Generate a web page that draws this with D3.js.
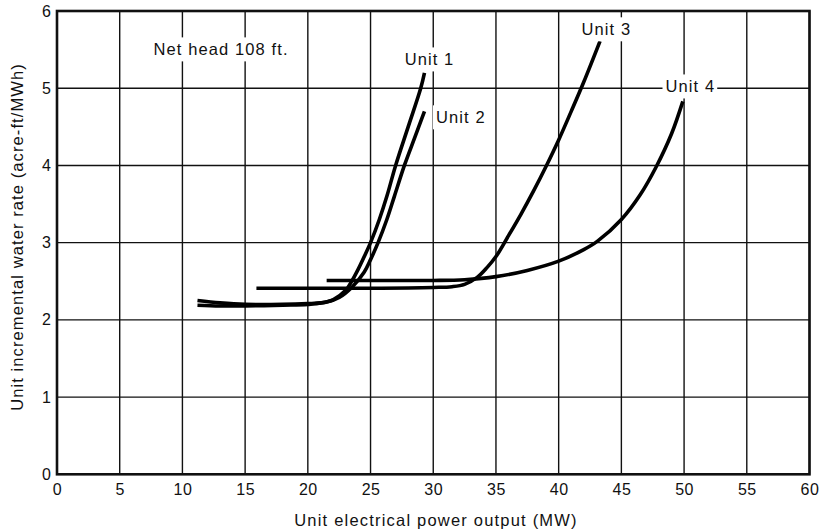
<!DOCTYPE html>
<html><head><meta charset="utf-8">
<script src="https://cdn.jsdelivr.net/npm/d3@7"></script>
<style>body{margin:0;background:#fff}svg{display:block}text{font-family:"Liberation Sans",Arial,sans-serif;fill:#111}</style>
</head><body>
<svg id="c" width="819" height="531"></svg>
<script>
const xTicks = [0,5,10,15,20,25,30,35,40,45,50,55,60];
const yTicks = [0,1,2,3,4,5,6];
const xTitle = "Unit electrical power output (MW)";
const yTitle = "Unit incremental water rate (acre-ft/MWh)";
const note = "Net head 108 ft.";

const unit1 = [[11.2,2.25],[13,2.22],[15,2.2],[18,2.2],[20,2.21],[21,2.22],[22,2.26],[23,2.38],[23.5,2.5],[24,2.65],[24.5,2.82],[25,3.0],[25.7,3.3],[26.3,3.6],[27,4.0],[28,4.5],[29,5.0],[29.3,5.2]];
const unit2 = [[11.2,2.19],[13,2.18],[15,2.18],[18,2.19],[20,2.2],[21.5,2.23],[22.5,2.29],[23.5,2.42],[24.5,2.62],[25,2.78],[25.6,3.0],[26.3,3.3],[26.9,3.6],[27.7,4.0],[28.5,4.35],[29.3,4.7]];
const unit3 = [[15.9,2.41],[20,2.41],[25,2.41],[30,2.42],[31.5,2.43],[32.5,2.46],[33.5,2.55],[34.3,2.68],[35,2.82],[36,3.09],[37,3.37],[38,3.67],[39,3.99],[40,4.33],[41,4.7],[42,5.08],[43.3,5.61]];
const unit4 = [[21.5,2.51],[25,2.51],[30,2.51],[32.5,2.52],[35,2.56],[37.5,2.64],[40,2.76],[42,2.91],[43.1,3.02],[45,3.3],[46.5,3.62],[47.8,3.99],[49,4.41],[49.9,4.83]];
const seriesNames = ["Unit 1","Unit 2","Unit 3","Unit 4"];
const seriesData = [unit1, unit2, unit3, unit4];
const labelAt = [[29.7,5.37],[32.2,4.62],[43.8,5.76],[50.5,5.02]];

const svg = d3.select("#c");
const x = d3.scaleLinear().domain([0,60]).range([57,809.5]);
const y = d3.scaleLinear().domain([0,6]).range([474.3,11]);

const g = svg.append("g");
g.selectAll(".vg").data(xTicks).join("line")
  .attr("x1",d=>x(d)).attr("x2",d=>x(d)).attr("y1",y(0)).attr("y2",y(6))
  .attr("stroke","#111").attr("stroke-width",1.4);
g.selectAll(".hg").data(yTicks).join("line")
  .attr("y1",d=>y(d)).attr("y2",d=>y(d)).attr("x1",x(0)).attr("x2",x(60))
  .attr("stroke","#111").attr("stroke-width",1.4);
g.append("rect").attr("x",x(0)).attr("y",y(6)).attr("width",x(60)-x(0)).attr("height",y(0)-y(6))
  .attr("fill","none").attr("stroke","#111").attr("stroke-width",2.6);

const xa = svg.append("g").attr("transform",`translate(0,${y(0)})`)
  .call(d3.axisBottom(x).tickValues(xTicks).tickSize(0).tickPadding(9).tickFormat(d3.format("d")));
xa.select(".domain").remove();
xa.selectAll("text").attr("font-size",16).attr("font-family","Liberation Sans, Arial, sans-serif").attr("fill","#111").attr("letter-spacing",0.5);
const ya = svg.append("g").attr("transform",`translate(${x(0)},0)`)
  .call(d3.axisLeft(y).tickValues(yTicks).tickSize(0).tickPadding(6).tickFormat(d3.format("d")));
ya.select(".domain").remove();
ya.selectAll("text").attr("font-size",16).attr("font-family","Liberation Sans, Arial, sans-serif").attr("fill","#111");

svg.append("text").attr("x",436).attr("y",526).attr("text-anchor","middle")
  .attr("font-size",16.5).attr("letter-spacing",1.2).text(xTitle);
svg.append("text").attr("transform",`translate(23,237) rotate(-90)`).attr("text-anchor","middle")
  .attr("font-size",16.5).attr("letter-spacing",1.1).text(yTitle);

const line = d3.line().x(d=>x(d[0])).y(d=>y(d[1])).curve(d3.curveCatmullRom.alpha(0.5));
svg.selectAll(".curve").data(seriesData).join("path")
  .attr("d",line).attr("fill","none").attr("stroke","#000").attr("stroke-width",3.6)
  .attr("stroke-linecap","butt").attr("stroke-linejoin","round");

function boxedLabel(px,py,txt,anchor){
  const gg = svg.append("g");
  const t = gg.append("text").attr("x",px).attr("y",py).attr("dy","0.35em")
    .attr("text-anchor",anchor||"middle").attr("font-size",16.5).attr("letter-spacing",1.1).text(txt);
  const b = t.node().getBBox();
  gg.insert("rect","text").attr("x",b.x-3).attr("y",b.y-3).attr("width",b.width+5).attr("height",b.height+6).attr("fill","#fff");
}
boxedLabel(x(7.7),y(5.5),note,"start");
seriesNames.forEach((n,i)=>boxedLabel(x(labelAt[i][0]),y(labelAt[i][1]),n,"middle"));
</script>
</body></html>
